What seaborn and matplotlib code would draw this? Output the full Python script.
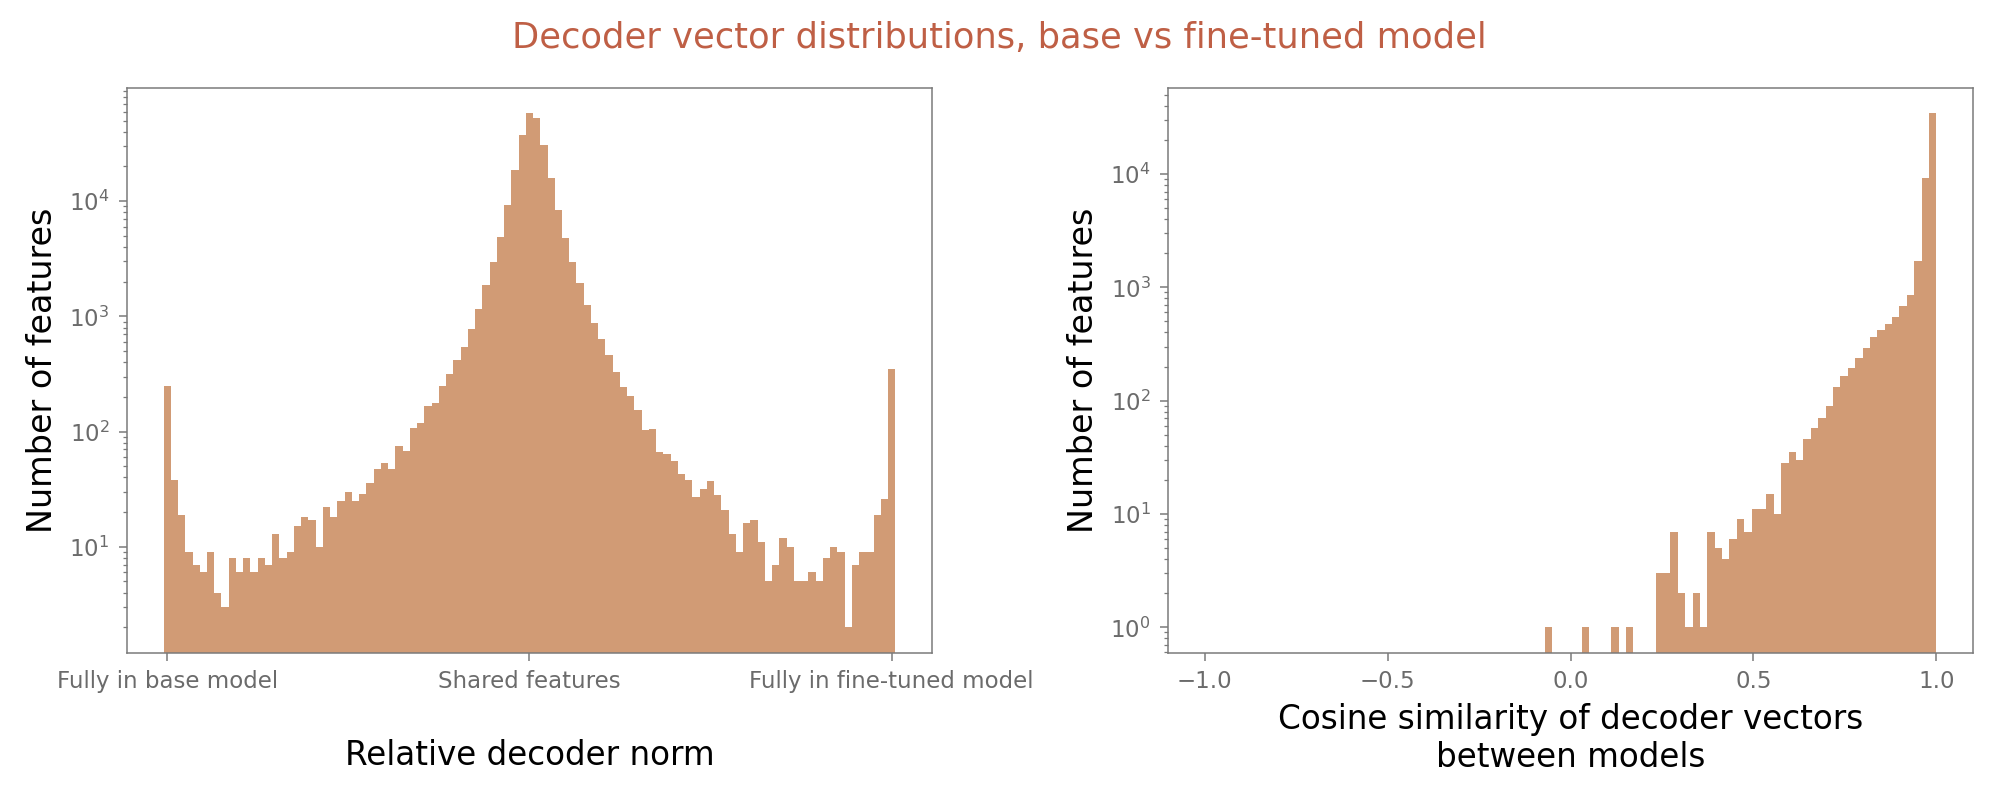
import numpy as np
import pandas as pd
import seaborn as sns
import matplotlib.pyplot as plt

# left panel: relative decoder norm, 101 bins of 0.01 centred on 0 .. 1
norm_edges = np.linspace(-0.005, 1.005, 102)
norm_counts = [250, 38, 19, 9, 7, 6, 9, 4, 3, 8,
               6, 8, 6, 8, 7, 13, 8, 9, 15, 18,
               17, 10, 22, 18, 25, 30, 25, 29, 36, 47,
               53, 47, 75, 68, 108, 119, 168, 176, 249, 319,
               414, 537, 784, 1151, 1862, 2965, 4893, 9270, 18770, 37200,
               57900, 52700, 31000, 15800, 8450, 4750, 2965, 1930, 1248, 875,
               636, 465, 332, 243, 205, 155, 103, 105, 67, 64,
               55, 43, 38, 27, 32, 37, 28, 21, 13, 9,
               16, 17, 11, 5, 7, 12, 10, 5, 5, 6,
               5, 8, 10, 9, 2, 7, 9, 9, 19, 26,
               347]
norm_ticks = [0, 0.5, 1]
norm_ticklabels = ['Fully in base model', 'Shared features', 'Fully in fine-tuned model']

# right panel: cosine similarity, 99 bins between -1 and 1
cos_edges = np.linspace(-1, 1, 100)
cos_counts = ([0] * 46 +
              [1, 0, 0, 0, 0, 1, 0, 0, 0, 1,
               0, 1, 0, 0, 0, 3, 3, 7, 2, 1,
               2, 1, 7, 5, 4, 6, 9, 7, 11, 11,
               15, 10, 28, 35, 30, 46, 57, 70, 90, 132,
               166, 195, 240, 293, 368, 418, 478, 542, 687, 858,
               1718, 9200, 34300])
cos_ticks = [-1.0, -0.5, 0.0, 0.5, 1.0]

norm_df = pd.DataFrame({'x': (norm_edges[:-1] + norm_edges[1:]) / 2, 'n': norm_counts})
cos_df = pd.DataFrame({'x': (cos_edges[:-1] + cos_edges[1:]) / 2, 'n': cos_counts})

sns.set_theme(style='ticks')
plt.rcParams['font.family'] = ['DejaVu Sans']

cor = '#d19b75'
cinza = '#7a7a7a'

fig, axes = plt.subplots(1, 2, figsize=(19.99, 8), dpi=100)
fig.subplots_adjust(left=0.0635, right=0.987, bottom=0.18375, top=0.8905, wspace=0.2935)

sns.histplot(data=norm_df, x='x', weights='n', bins=norm_edges.tolist(), color=cor,
             alpha=1, linewidth=0, ax=axes[0])
sns.histplot(data=cos_df, x='x', weights='n', bins=cos_edges.tolist(), color=cor,
             alpha=1, linewidth=0, ax=axes[1])

for ax in axes:
    ax.set_yscale('log')
    ax.tick_params(axis='both', which='major', length=6, width=1.1, color=cinza,
                   labelcolor='#6b6b6b', labelsize=16.5, pad=6.5)
    ax.tick_params(axis='y', which='minor', length=3, width=0.9, color=cinza)
    for s in ax.spines.values():
        s.set_color(cinza)
        s.set_linewidth(1.1)
    ax.set_ylabel('Number of features', fontsize=24, color='black', labelpad=7)

axes[0].set_xticks(norm_ticks)
axes[0].set_xticklabels(norm_ticklabels)
axes[0].set_xlabel('Relative decoder norm', fontsize=23.5, color='black', labelpad=33)

axes[1].set_xticks(cos_ticks)
axes[1].set_xlabel('Cosine similarity of decoder vectors\nbetween models',
                   fontsize=23.5, color='black', labelpad=7)

fig.suptitle('Decoder vector distributions, base vs fine-tuned model',
             x=0.5, y=0.9525, va='center', fontsize=25.4, color='#bf5f45')

fig.savefig('out.png', dpi=100)
